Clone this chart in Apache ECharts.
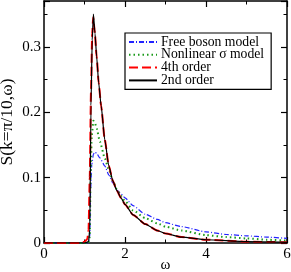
<!DOCTYPE html>
<html><head><meta charset="utf-8">
<script src="https://cdn.jsdelivr.net/npm/echarts@6/dist/echarts.min.js"></script>
<style>html,body{margin:0;padding:0;background:#fff}#c{width:291px;height:272px}</style>
</head><body><div id="c"></div>
<script>
const seriesNames = ['Free boson model', 'Nonlinear \u03c3 model', '4th order', '2nd order'];
const xTicks = [0, 2, 4, 6];
const yTicks = [0, 0.1, 0.2, 0.3];
const freeBoson = [[0,0],[1.1,0],[1.13,0.01],[1.15,0.08],[1.18,0.12],[1.22,0.136],[1.26,0.139],[1.3,0.137],[1.38,0.13],[1.5,0.118],[1.6,0.104],[1.7,0.092],[1.8,0.081],[1.9,0.075],[2.0,0.069],[2.2,0.057],[2.5,0.044],[2.8,0.036],[3.0,0.031],[3.4,0.025],[4.0,0.017],[4.5,0.013],[5.0,0.011],[5.5,0.009],[6.0,0.007]];
const nonlinearSigma = [[0,0],[1.1,0],[1.13,0.01],[1.15,0.1],[1.18,0.165],[1.22,0.187],[1.26,0.183],[1.3,0.175],[1.38,0.155],[1.5,0.13],[1.6,0.112],[1.7,0.095],[1.8,0.082],[1.9,0.072],[2.0,0.064],[2.2,0.05],[2.5,0.038],[2.8,0.03],[3.0,0.025],[3.4,0.019],[4.0,0.012],[4.5,0.009],[5.0,0.007],[5.5,0.005],[6.0,0.0035]];
const fourthOrder = [[0,0],[0.9,0],[1.0,0.002],[1.07,0.006],[1.1,0.02],[1.13,0.1],[1.16,0.23],[1.19,0.32],[1.215,0.345],[1.25,0.325],[1.3,0.285],[1.35,0.245],[1.41,0.21],[1.5,0.158],[1.6,0.118],[1.7,0.095],[1.8,0.08],[1.9,0.069],[2.0,0.059],[2.2,0.043],[2.5,0.029],[2.8,0.019],[3.0,0.0145],[3.4,0.009],[4.0,0.005],[5.0,0.002],[6.0,0.001]];
const secondOrder = [[0,0],[1.0,0],[1.1,0.002],[1.13,0.02],[1.16,0.21],[1.19,0.31],[1.22,0.35],[1.26,0.32],[1.3,0.285],[1.35,0.245],[1.41,0.21],[1.5,0.158],[1.6,0.118],[1.7,0.095],[1.8,0.08],[1.9,0.069],[2.0,0.059],[2.2,0.043],[2.5,0.029],[2.8,0.019],[3.0,0.0145],[3.4,0.009],[4.0,0.005],[5.0,0.002],[6.0,0.001]];

const font = 'Liberation Serif, Times New Roman, serif';
const chart = echarts.init(document.getElementById('c'), null, {renderer:'canvas'});
const axLine = {show:true, onZero:false, lineStyle:{color:'#000', width:1.5}};
const tick = {show:true, inside:true, length:6, lineStyle:{color:'#000', width:1.2}};
const minor = {show:true, splitNumber:2, length:3.5, lineStyle:{color:'#000', width:1}};
function mk(name, data, color, type, width){
  return {name, type:'line', data, symbol:'none', smooth:0.2, smoothMonotone:'x', animation:false,
    lineStyle:{color, type, width}, itemStyle:{color}};
}
chart.setOption({
  animation:false,
  grid:{left:44, right:4, top:1, bottom:29, containLabel:false, outerBoundsMode:'none'},
  legend:{
    orient:'vertical', left:125, top:33,
    data: seriesNames,
    backgroundColor:'#fff', borderColor:'#000', borderWidth:1.2,
    padding:[2,7,2,3], itemGap:-1.2, itemWidth:28, itemHeight:12,
    itemStyle:{opacity:0},
    textStyle:{fontFamily:font, fontSize:13.7, color:'#000', lineHeight:12.3, padding:[0,0,0,-1]}
  },
  xAxis:[{type:'value', min:0, max:6, interval:2, name:'\u03c9', nameLocation:'middle', nameGap:15, nameMoveOverlap:false,
    nameTextStyle:{fontFamily:font, fontSize:15, color:'#000'},
    axisLine:axLine, axisTick:tick, minorTick:minor, splitLine:{show:false},
    axisLabel:{fontFamily:font, fontSize:15, color:'#000', margin:4, formatter:v=>xTicks.includes(v)?String(v):''}},
    {type:'value', position:'top', min:0, max:6, interval:2, axisLine:axLine, axisTick:tick, minorTick:minor, splitLine:{show:false}, axisLabel:{show:false}}],
  yAxis:[{type:'value', min:0, max:0.37, interval:0.1, name:'S(k=\u03c0/10,\u03c9)', nameLocation:'middle', nameGap:28, nameMoveOverlap:false,
    nameTextStyle:{fontFamily:font, fontSize:17.5, color:'#000'},
    axisLine:axLine, axisTick:tick, minorTick:minor, splitLine:{show:false},
    axisLabel:{fontFamily:font, fontSize:15, color:'#000', margin:3, formatter:v=>{const t=yTicks.find(a=>Math.abs(a-v)<1e-9);return t===undefined?'':String(t);}}},
    {type:'value', position:'right', min:0, max:0.37, interval:0.1, axisLine:axLine, axisTick:tick, minorTick:minor, splitLine:{show:false}, axisLabel:{show:false}}],
  series:[
    mk(seriesNames[0], freeBoson, '#2222ff', [5,2,1,2], 1.2),
    mk(seriesNames[1], nonlinearSigma, '#1a9a1a', [1.5,3], 2),
    mk(seriesNames[2], fourthOrder, '#ff0000', [9,4], 2),
    mk(seriesNames[3], secondOrder, '#000000', 'solid', 1.2)
  ]
});
</script></body></html>
